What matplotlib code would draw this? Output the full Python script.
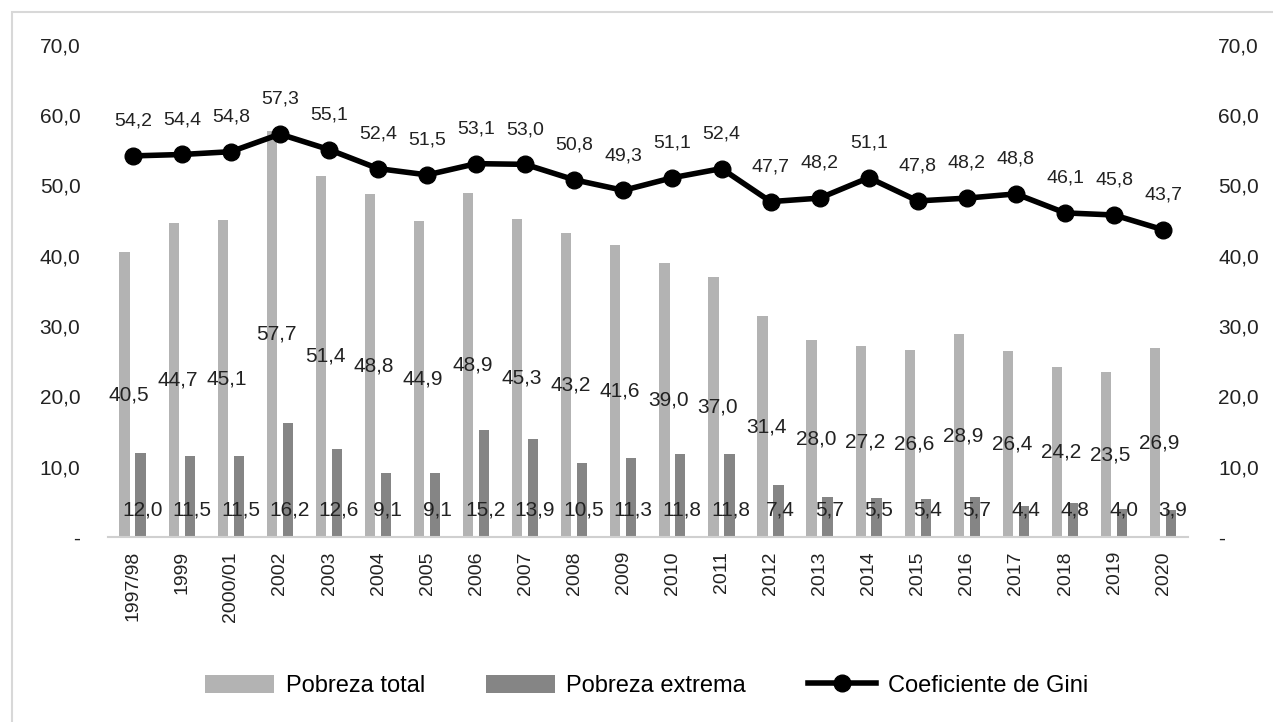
import matplotlib
matplotlib.use('Agg')
import matplotlib.pyplot as plt
from matplotlib.patches import Rectangle
import numpy as np

plt.rcParams['font.family'] = ['Liberation Sans Narrow', 'Liberation Sans', 'DejaVu Sans']

years = ['1997/98', '1999', '2000/01', '2002', '2003', '2004', '2005', '2006', '2007',
         '2008', '2009', '2010', '2011', '2012', '2013', '2014', '2015', '2016', '2017',
         '2018', '2019', '2020']
pobreza_total = [40.5, 44.7, 45.1, 57.7, 51.4, 48.8, 44.9, 48.9, 45.3, 43.2, 41.6, 39.0,
                 37.0, 31.4, 28.0, 27.2, 26.6, 28.9, 26.4, 24.2, 23.5, 26.9]
pobreza_extrema = [12.0, 11.5, 11.5, 16.2, 12.6, 9.1, 9.1, 15.2, 13.9, 10.5, 11.3, 11.8,
                   11.8, 7.4, 5.7, 5.5, 5.4, 5.7, 4.4, 4.8, 4.0, 3.9]
gini = [54.2, 54.4, 54.8, 57.3, 55.1, 52.4, 51.5, 53.1, 53.0, 50.8, 49.3, 51.1, 52.4,
        47.7, 48.2, 51.1, 47.8, 48.2, 48.8, 46.1, 45.8, 43.7]
yticks = [0, 10, 20, 30, 40, 50, 60, 70]


def fmt(v):
    return f'{v:.1f}'.replace('.', ',')


def tick_fmt(v):
    return '-' if v == 0 else fmt(v)


c_total = '#b3b3b3'
c_ext = '#858585'
txt = '#222222'

fig = plt.figure(figsize=(12.73, 7.22), dpi=100)
ax = fig.add_axes([0.085, 0.256, 0.848, 0.682])
x = np.arange(len(years))
w = 0.21

b1 = ax.bar(x - 0.165, pobreza_total, w, color=c_total, label='Pobreza total', zorder=2)
b2 = ax.bar(x + 0.16, pobreza_extrema, w, color=c_ext, label='Pobreza extrema', zorder=2)
ln, = ax.plot(x, gini, color='black', lw=4, marker='o', ms=12, label='Coeficiente de Gini', zorder=4)

for i in x:
    ax.text(i - 0.08, pobreza_total[i] / 2, fmt(pobreza_total[i]), ha='center', va='center',
            fontsize=15, color=txt, zorder=5)
    ax.text(i + 0.2, 3.8, fmt(pobreza_extrema[i]), ha='center', va='center',
            fontsize=15, color=txt, zorder=5)
    ax.annotate(fmt(gini[i]), (i, gini[i]), xytext=(0, 25), textcoords='offset points',
                ha='center', va='center', fontsize=14, color=txt, zorder=5)

ax.set_xlim(-0.5, len(years) - 0.5)
ax.set_ylim(0, 70)
ax.set_yticks(yticks)
ax.set_yticklabels([tick_fmt(v) for v in yticks], fontsize=15, color=txt)
ax.set_xticks(x)
ax.set_xticklabels(years, rotation=90, fontsize=14, color=txt)
ax.tick_params(axis='both', length=0, pad=20)
ax.tick_params(axis='x', pad=10)

ax2 = ax.twinx()
ax2.set_ylim(0, 70)
ax2.set_yticks(yticks)
ax2.set_yticklabels([tick_fmt(v) for v in yticks], fontsize=15, color=txt)
ax2.tick_params(axis='y', length=0, pad=22)

for a in (ax, ax2):
    for s in a.spines.values():
        s.set_visible(False)
ax.spines['bottom'].set_visible(True)
ax.spines['bottom'].set_color('#d0d0d0')
ax.spines['bottom'].set_linewidth(1.5)

fig.legend([b1, b2, ln], ['Pobreza total', 'Pobreza extrema', 'Coeficiente de Gini'],
           loc='center', bbox_to_anchor=(0.508, 0.05), ncol=3, frameon=False,
           fontsize=17, handlelength=2.9, handleheight=0.8, columnspacing=2.6, handletextpad=0.5)

fig.patches.append(Rectangle((12 / 1273, -0.01), 1.0, 1 - 12 / 722 + 0.01,
                             transform=fig.transFigure, fill=False, edgecolor='#d8d8d8', lw=1.5))

fig.savefig('out.png', dpi=100)
